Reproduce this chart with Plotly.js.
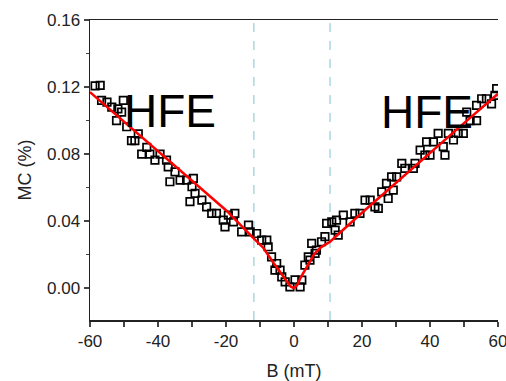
<!DOCTYPE html>
<html><head><meta charset="utf-8">
<script src="https://cdn.plot.ly/plotly-3.0.1.min.js"></script>
<style>html,body{margin:0;padding:0;background:#fff;}#chart{width:506px;height:381px;}</style>
</head><body><div id="chart"></div>
<script>
const fieldB = [-58.5,-57,-56.6,-55,-53.6,-52.2,-51.8,-50.7,-50.2,-49.2,-47.8,-46.8,-45.8,-44.8,-43.3,-42.4,-40.9,-39.4,-37.5,-37,-36.5,-35,-33.5,-31.6,-30.6,-30,-29.6,-29.1,-27.1,-25.7,-24.2,-22.8,-20.8,-20.3,-19.3,-17.8,-17.4,-15.4,-13.4,-12.9,-11,-9.5,-8,-7.6,-6.6,-5.6,-5.1,-4.1,-3.6,-2.6,-1.2,0.3,1.8,2.3,3.2,4.2,4.7,5.2,6.2,6.6,8.1,9.1,9.6,11.1,12.1,12.5,13,14.5,16.5,17.9,19.4,20.9,22.4,23.8,24.8,25.8,27.2,27.7,28.7,29.2,30.2,31.7,32.6,35.1,35.6,37.1,38.5,39,40,41,42.4,43.9,44.4,45.4,46.9,48.3,49.8,50.8,51.8,53.7,53.7,55.2,56.6,58.1,59.1,59.6];
const mcValues = [0.1207,0.121,0.112,0.111,0.108,0.100,0.107,0.105,0.112,0.0963,0.088,0.088,0.092,0.080,0.084,0.080,0.0764,0.080,0.0764,0.0724,0.0635,0.0694,0.0645,0.0645,0.0516,0.0605,0.0655,0.0565,0.0525,0.0485,0.0446,0.0446,0.0406,0.0366,0.0436,0.0396,0.0446,0.0336,0.0376,0.0336,0.0326,0.0287,0.0287,0.0247,0.0187,0.0107,0.0147,0.0107,0.0067,0.0038,0.0008,0.005,0.0008,0.0048,0.0137,0.0187,0.0167,0.0267,0.0207,0.0227,0.0277,0.0307,0.0386,0.0396,0.0346,0.0406,0.0316,0.0436,0.0396,0.0446,0.0446,0.0525,0.0525,0.0485,0.0476,0.0575,0.0625,0.0535,0.0664,0.0585,0.0664,0.0744,0.0715,0.0715,0.0744,0.0824,0.0794,0.0873,0.0794,0.0873,0.0924,0.0844,0.0794,0.0924,0.0884,0.0924,0.0924,0.105,0.100,0.100,0.109,0.113,0.113,0.110,0.115,0.119];
const fitB = [-60,-50,-40,-30,-20,-12,-9,-6,-4,-2,-1,0,1,2,4,6,8,10.6,20,30,40,50,60];
const fitMC = [0.117,0.0995,0.082,0.0645,0.0465,0.030,0.0240,0.0150,0.0092,0.0035,0.001,0,0.002,0.0065,0.0135,0.0205,0.0245,0.0277,0.045,0.063,0.081,0.0985,0.116];
const boundaryB = [-11.8, 10.6];
const xTickVals = [-60,-40,-20,0,20,40,60];
const xTickText = ['-60','-40','-20','0','20','40','60'];
const yTickVals = [0,0.04,0.08,0.12,0.16];
const yTickText = ['0.00','0.04','0.08','0.12','0.16'];
const regionLabels = [{text:'HFE', b:-36.5, mc:0.106},{text:'HFE', b:39.1, mc:0.105}];
const xTitle = 'B (mT)';
const yTitle = 'MC (%)';

const fontFam = 'Liberation Sans, Arial, sans-serif';
const traces = [
  {x: fieldB, y: mcValues, mode:'markers', type:'scatter',
   marker:{symbol:'square-open', size:7.5, color:'#000', line:{width:1.7, color:'#000'}}},
  {x: fitB, y: fitMC, mode:'lines', type:'scatter', line:{color:'#ff0000', width:2.5}}
];
const shapes = boundaryB.map(b => ({type:'line', xref:'x', yref:'paper', x0:b, x1:b, y0:0, y1:1,
  line:{color:'#9fd0dc', width:1.3, dash:'dash'}, layer:'below'}));
const annotations = regionLabels.map(r => ({x:r.b, y:r.mc, xref:'x', yref:'y', text:r.text, showarrow:false,
  font:{family:fontFam, size:46, color:'#000'}}));
const layout = {
  width:506, height:381, showlegend:false,
  margin:{l:90, r:8, t:20, b:61, pad:0},
  paper_bgcolor:'#fff', plot_bgcolor:'#fff',
  font:{family:fontFam, color:'#111'},
  xaxis:{range:[-60,60], tickmode:'array', tickvals:xTickVals, ticktext:xTickText, ticks:'outside', ticklen:5, tickwidth:1.5,
    ticklabeloverflow:'allow',
    minor:{tickmode:'linear', tick0:-60, dtick:10, ticks:'outside', ticklen:5, tickwidth:1.5},
    showline:true, linewidth:1.5, linecolor:'#222', mirror:true, showgrid:false, zeroline:false,
    tickfont:{size:17, color:'#222'}, title:{text:xTitle, font:{size:18, color:'#222'}, standoff:14}},
  yaxis:{range:[-0.019,0.16], tickmode:'array', tickvals:yTickVals, ticktext:yTickText, ticks:'outside', ticklen:5, tickwidth:1.5,
    minor:{tickmode:'linear', tick0:0, dtick:0.02, ticks:'outside', ticklen:3, tickwidth:1.5},
    showline:true, linewidth:1.5, linecolor:'#222', showgrid:false, zeroline:false,
    tickfont:{size:17, color:'#222'}, title:{text:yTitle, font:{size:18, color:'#222'}, standoff:10}},
  yaxis2:{range:[-0.019,0.16], overlaying:'y', side:'right', tickmode:'linear', tick0:0, dtick:0.02, ticks:'inside', ticklen:4, tickwidth:1.5,
    showticklabels:false, showline:true, linewidth:1.5, linecolor:'#222', showgrid:false, zeroline:false},
  shapes, annotations
};
Plotly.newPlot('chart', traces, layout, {staticPlot:true, displayModeBar:false});
</script></body></html>
